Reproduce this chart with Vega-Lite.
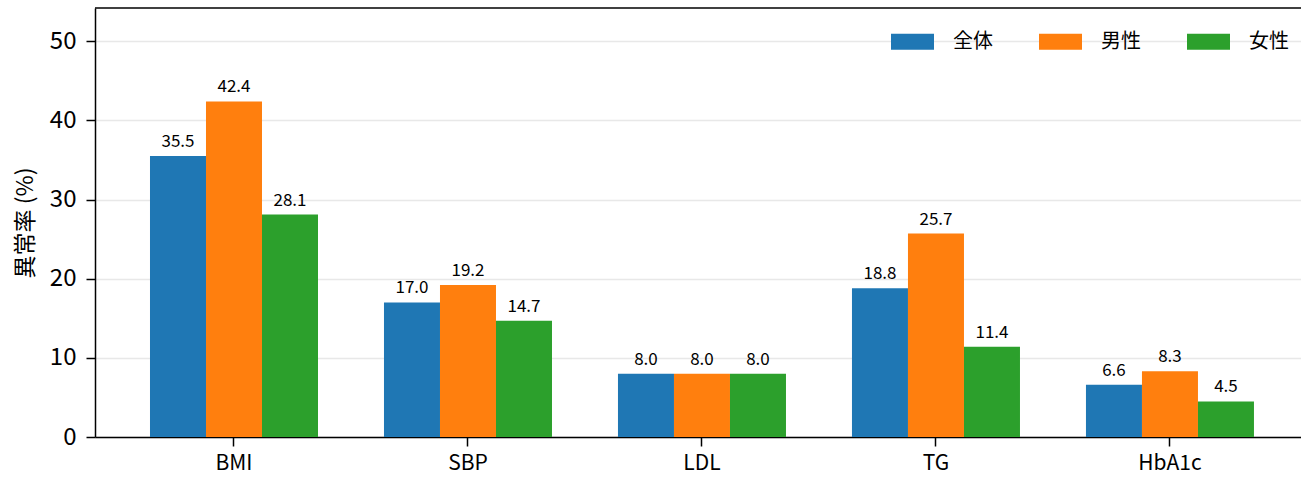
{
  "$schema": "https://vega.github.io/schema/vega-lite/v6.json",
  "width": 1206,
  "height": 429,
  "autosize": {"type": "none"},
  "padding": {"left": 95, "top": 8, "right": 0, "bottom": 42},
  "config": {
    "font": "Noto Sans CJK JP",
    "view": {"stroke": null},
    "axis": {
      "domainColor": "black",
      "domainWidth": 1.5,
      "tickColor": "black",
      "tickWidth": 1.5,
      "labelColor": "black",
      "titleColor": "black"
    }
  },
  "data": {
    "values": [
      {"item": "BMI", "group": "全体", "rate": 35.5},
      {"item": "BMI", "group": "男性", "rate": 42.4},
      {"item": "BMI", "group": "女性", "rate": 28.1},
      {"item": "SBP", "group": "全体", "rate": 17.0},
      {"item": "SBP", "group": "男性", "rate": 19.2},
      {"item": "SBP", "group": "女性", "rate": 14.7},
      {"item": "LDL", "group": "全体", "rate": 8.0},
      {"item": "LDL", "group": "男性", "rate": 8.0},
      {"item": "LDL", "group": "女性", "rate": 8.0},
      {"item": "TG", "group": "全体", "rate": 18.8},
      {"item": "TG", "group": "男性", "rate": 25.7},
      {"item": "TG", "group": "女性", "rate": 11.4},
      {"item": "HbA1c", "group": "全体", "rate": 6.6},
      {"item": "HbA1c", "group": "男性", "rate": 8.3},
      {"item": "HbA1c", "group": "女性", "rate": 4.5}
    ]
  },
  "layer": [
    {
      "mark": {"type": "bar"},
      "encoding": {
        "x": {
          "field": "item", "type": "nominal",
          "sort": ["BMI", "SBP", "LDL", "TG", "HbA1c"],
          "scale": {"paddingInner": 0.282, "paddingOuter": 0.218, "align": 0.539},
          "axis": {"title": null, "labelAngle": 0, "labelFontSize": 21, "tickSize": 9, "labelPadding": 6, "grid": false}
        },
        "xOffset": {
          "field": "group", "type": "nominal",
          "sort": ["全体", "男性", "女性"],
          "scale": {"paddingInner": 0, "paddingOuter": 0}
        },
        "y": {
          "field": "rate", "type": "quantitative",
          "scale": {"domain": [0, 54.2], "nice": false},
          "axis": {
            "title": "異常率 (%)",
            "titleFontSize": 23,
            "titleFontWeight": "normal",
            "titlePadding": 12,
            "values": [0, 10, 20, 30, 40, 50],
            "labelFontSize": 24,
            "tickSize": 9,
            "labelPadding": 10,
            "grid": true,
            "gridColor": "#e8e8e8",
            "gridWidth": 1.3
          }
        },
        "color": {
          "field": "group", "type": "nominal",
          "sort": ["全体", "男性", "女性"],
          "scale": {"domain": ["全体", "男性", "女性"], "range": ["#1f77b4", "#ff7f0e", "#2ca02c"]},
          "legend": {
            "title": null,
            "orient": "top-right",
            "direction": "horizontal",
            "offset": 12,
            "labelFontSize": 20,
            "labelColor": "black",
            "symbolType": "M-1,-0.37H1V0.37H-1Z",
            "symbolSize": 1849,
            "symbolStrokeWidth": 0,
            "symbolOpacity": 1,
            "labelOffset": 19,
            "columnPadding": 46
          }
        }
      }
    },
    {
      "mark": {"type": "text", "dy": -9, "baseline": "alphabetic", "fontSize": 17, "color": "black"},
      "encoding": {
        "x": {"field": "item", "type": "nominal", "sort": ["BMI", "SBP", "LDL", "TG", "HbA1c"]},
        "xOffset": {"field": "group", "type": "nominal", "sort": ["全体", "男性", "女性"]},
        "y": {"field": "rate", "type": "quantitative"},
        "text": {"field": "rate", "type": "quantitative", "format": ".1f"}
      }
    },
    {
      "data": {"values": [{"top": 54.2}]},
      "mark": {"type": "rule", "color": "black", "strokeWidth": 1.5},
      "encoding": {"y": {"field": "top", "type": "quantitative"}}
    }
  ]
}
